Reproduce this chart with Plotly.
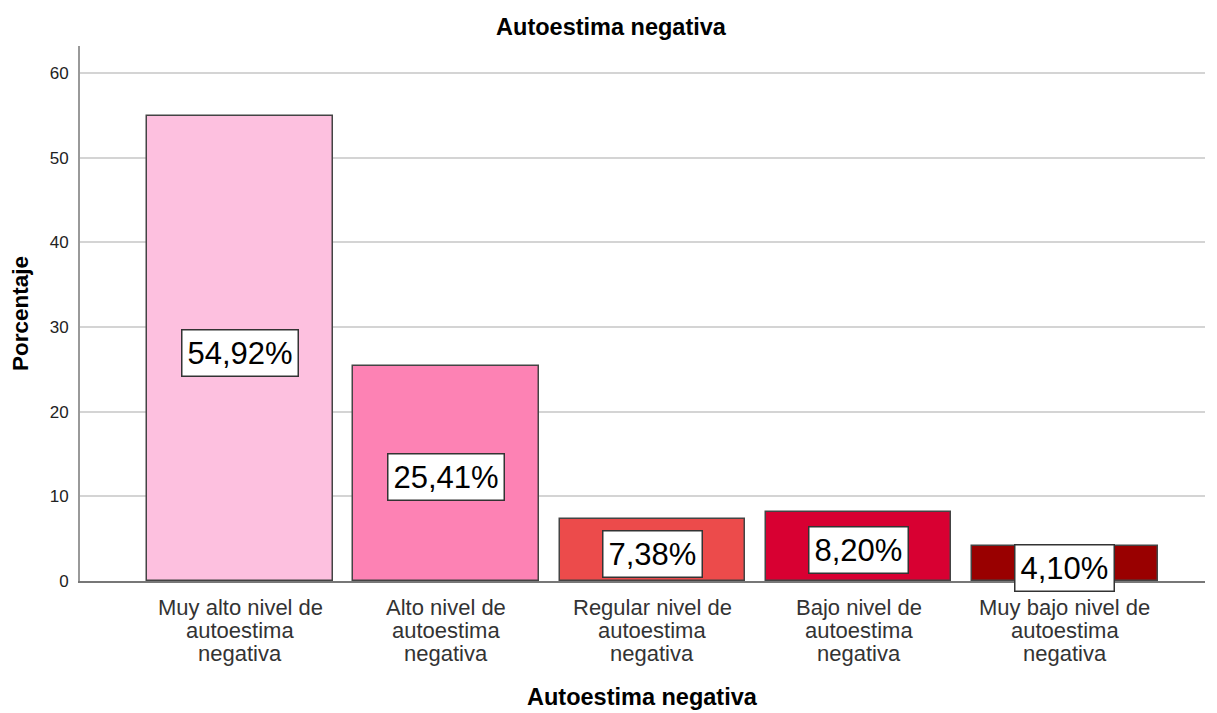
import plotly.graph_objects as go

categories = [
    "Muy alto nivel de\nautoestima\nnegativa",
    "Alto nivel de\nautoestima\nnegativa",
    "Regular nivel de\nautoestima\nnegativa",
    "Bajo nivel de\nautoestima\nnegativa",
    "Muy bajo nivel de\nautoestima\nnegativa",
]
values = [54.92, 25.41, 7.38, 8.20, 4.10]
colors = ["#fdc0df", "#fd82b4", "#ec4b4b", "#d80032", "#990000"]
y_ticks = [0, 10, 20, 30, 40, 50, 60]

FONT = "Liberation Sans, Arial, sans-serif"
xpos = list(range(len(categories)))

W, H = 1201, 705  # page body has an 8px margin inside the 1217x713 window
M_T, M_B = 38, 132
PLOT_H = H - M_T - M_B

fig = go.Figure()
fig.add_trace(go.Bar(
    x=xpos, y=values, width=0.9,
    marker=dict(color=colors, line=dict(color="#444444", width=1.5)),
    hoverinfo="skip", showlegend=False,
))

annotations = []
for i, v in enumerate(values):
    annotations.append(dict(
        x=i, y=v / 2, xref="x", yref="y",
        text=f"{v:.2f}%".replace(".", ","),
        showarrow=False, yshift=-4,
        font=dict(family=FONT, size=31, color="#000000"),
        bgcolor="#ffffff", bordercolor="#333333", borderwidth=1.5, borderpad=5,
    ))
    for j, line in enumerate(categories[i].split("\n")):
        annotations.append(dict(
            x=i, y=0, xref="x", yref="y", yanchor="middle",
            text=line, showarrow=False, yshift=-(26 + 23 * j),
            font=dict(family=FONT, size=22, color="#333333"),
        ))

# x-axis title
annotations.append(dict(
    x=0.5, y=-(116 / PLOT_H), xref="paper", yref="paper",
    xanchor="center", yanchor="middle", showarrow=False,
    text="<b>Autoestima negativa</b>",
    font=dict(family=FONT, size=23.5, color="#000000"),
))

fig.update_layout(
    width=W, height=H,
    margin=dict(l=72, r=4, t=M_T, b=M_B, autoexpand=False),
    paper_bgcolor="#ffffff", plot_bgcolor="#ffffff",
    title=dict(text="<b>Autoestima negativa</b>", x=603 / W, xref="container",
               y=1 - 19 / H, yref="container", yanchor="middle", xanchor="center",
               font=dict(family=FONT, size=23.5, color="#000000")),
    xaxis=dict(range=[-0.776, 4.68], showticklabels=False, showgrid=False,
               zeroline=False, showline=True, linecolor="#777777", linewidth=1.5,
               ticks=""),
    yaxis=dict(range=[0, 63.2], tickvals=y_ticks, showgrid=True,
               gridcolor="#d4d4d4", gridwidth=2, zeroline=False,
               showline=True, linecolor="#999999", linewidth=2,
               ticks="outside", ticklen=6, tickcolor="rgba(0,0,0,0)",
               tickfont=dict(family=FONT, size=17, color="#222222"),
               title=dict(text="<b>Porcentaje</b>", standoff=16,
                          font=dict(family=FONT, size=22.5, color="#000000"))),
    annotations=annotations,
    bargap=0,
)

fig.write_html("out.html")
